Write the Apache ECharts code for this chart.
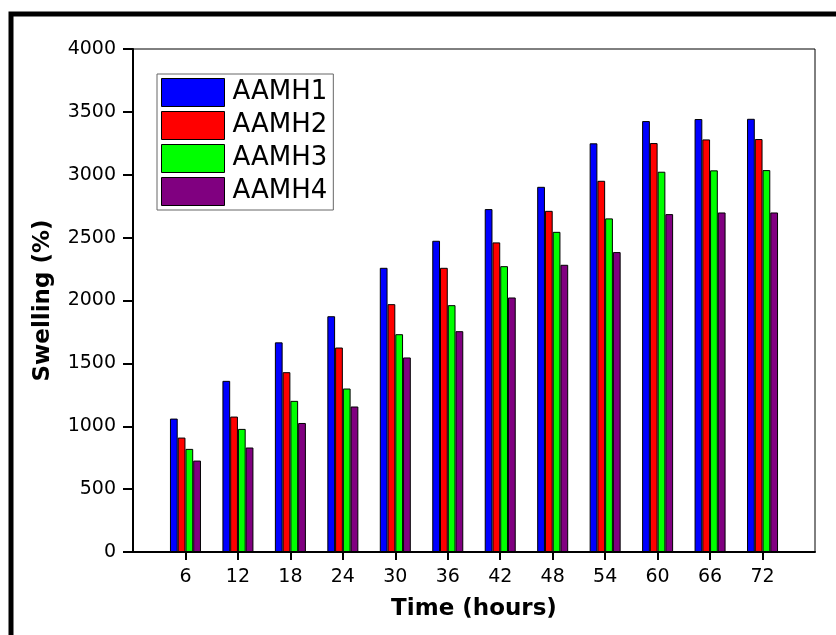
<!DOCTYPE html>
<html>
<head>
<meta charset="utf-8">
<title>Swelling</title>
<script src="https://cdn.jsdelivr.net/npm/echarts@6/dist/echarts.min.js"></script>
<style>
	html, body { margin: 0; padding: 0; background: #fff; }
	#main { width: 836px; height: 635px; }
</style>
</head>
<body>
<div id="main"></div>
<script>
// time points (hours)
var hours = [6, 12, 18, 24, 30, 36, 42, 48, 54, 60, 66, 72];
// swelling (%) per sample
var aamh1 = [1061, 1361, 1667, 1875, 2260, 2475, 2727, 2904, 3250, 3427, 3443, 3445];
var aamh2 = [910, 1077, 1430, 1626, 1971, 2260, 2462, 2713, 2952, 3252, 3281, 3284];
var aamh3 = [820, 979, 1202, 1300, 1732, 1963, 2273, 2546, 2653, 3024, 3035, 3037];
var aamh4 = [727, 831, 1026, 1157, 1547, 1756, 2024, 2284, 2385, 2687, 2700, 2700];

var names = ['AAMH1', 'AAMH2', 'AAMH3', 'AAMH4'];
var colors = ['#0000ff', '#ff0000', '#00ff00', '#800080'];
var values = [aamh1, aamh2, aamh3, aamh4];

function pairs(arr) {
	var out = [];
	for (var i = 0; i < hours.length; i++) {
		out.push([hours[i], arr[i]]);
	}
	return out;
}

var series = [];
for (var k = 0; k < names.length; k++) {
	series.push({
		name: names[k],
		type: 'bar',
		barWidth: 7.75,
		barGap: '0%',
		itemStyle: { color: colors[k], borderColor: '#000', borderWidth: 1 },
		data: pairs(values[k])
	});
}

var chart = echarts.init(document.getElementById('main'));
chart.setOption({
	animation: false,
	backgroundColor: '#fff',
	grid: {
		left: 133, right: 21, top: 49, bottom: 83,
		show: true, borderColor: '#000', borderWidth: 1
	},
	legend: {
		data: names,
		orient: 'vertical',
		left: 157, top: 74,
		itemWidth: 63, itemHeight: 28, itemGap: 4,
		padding: [4, 6, 4, 4],
		borderColor: '#666', borderWidth: 1,
		icon: 'rect',
		itemStyle: { borderColor: '#000', borderWidth: 1 },
		textStyle: { fontFamily: 'DejaVu Sans', fontSize: 26, color: '#000', padding: [0, 0, 0, 3] }
	},
	xAxis: {
		type: 'value',
		min: 0, max: 78, interval: 6,
		name: 'Time (hours)',
		nameLocation: 'middle',
		nameGap: 46,
		nameTextStyle: { fontFamily: 'DejaVu Sans', fontWeight: 'bold', fontSize: 23, color: '#000' },
		splitLine: { show: false },
		axisLine: { lineStyle: { color: '#000', width: 2 } },
		axisTick: { length: 8, lineStyle: { color: '#000', width: 2 } },
		axisLabel: {
			showMinLabel: false, showMaxLabel: false,
			margin: 16,
			fontFamily: 'DejaVu Sans', fontSize: 19, color: '#000'
		}
	},
	yAxis: {
		type: 'value',
		min: 0, max: 4000, interval: 500,
		name: 'Swelling (%)',
		nameLocation: 'middle',
		nameGap: 78,
		nameTextStyle: { fontFamily: 'DejaVu Sans', fontWeight: 'bold', fontSize: 23, color: '#000' },
		splitLine: { show: false },
		axisLine: { show: true, lineStyle: { color: '#000', width: 2 } },
		axisTick: { show: true, length: 10, lineStyle: { color: '#000', width: 2 } },
		axisLabel: {
			margin: 17,
			formatter: function(v) { return String(v); },
			fontFamily: 'DejaVu Sans', fontSize: 19, color: '#000'
		}
	},
	graphic: [{
		// thick outer frame, cut off at right and bottom
		type: 'rect',
		shape: { x: 11, y: 14, width: 900, height: 700 },
		style: { fill: 'none', stroke: '#000', lineWidth: 5 },
		silent: true
	}],
	series: series
});
</script>
</body>
</html>
